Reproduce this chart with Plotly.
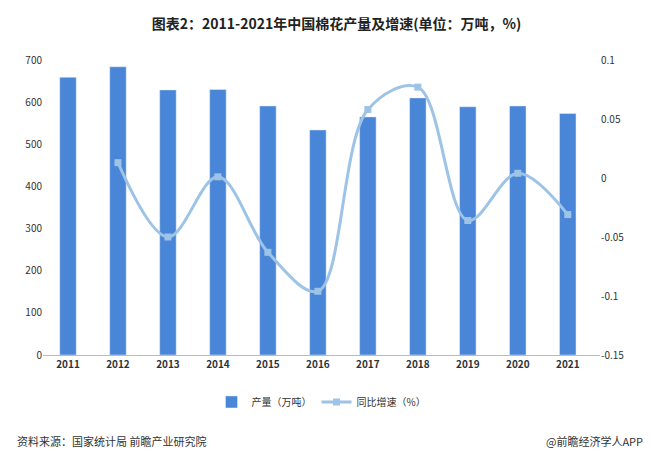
import plotly.graph_objects as go

years = ["2011","2012","2013","2014","2015","2016","2017","2018","2019","2020","2021"]
output = [659, 684, 629, 630, 591, 534, 565, 610, 589, 591, 573]
growth_years = years[1:]
growth = [0.013, -0.05, 0.001, -0.063, -0.096, 0.058, 0.077, -0.036, 0.004, -0.031]
right_ticks = [0.1, 0.05, 0, -0.05, -0.1, -0.15]
right_labels = ["0.1", "0.05", "0", "-0.05", "-0.1", "-0.15"]

fig = go.Figure()
fig.add_trace(go.Bar(x=years, y=output, name="产量（万吨）", marker_color="#4a86d8", width=0.33))
fig.add_trace(go.Scatter(x=growth_years, y=growth, name="同比增速（%）", yaxis="y2",
                         mode="lines+markers", line=dict(color="#9dc3e6", width=3, shape="spline"),
                         marker=dict(symbol="square", size=7, color="#9dc3e6")))
font = "Noto Sans CJK SC"
fig.update_layout(
    width=657, height=463, paper_bgcolor="white", plot_bgcolor="white",
    font=dict(family=font, size=10, color="#333"),
    title=dict(text="<b>图表2：2011-2021年中国棉花产量及增速(单位：万吨，%)</b>", x=0.5, y=0.975,
               xanchor="center", font=dict(size=14, color="#222")),
    margin=dict(l=35, r=65, t=52, b=116),
    xaxis=dict(showline=True, linecolor="#bbb", tickfont=dict(size=10, color="#333"), tickprefix="<b>", ticksuffix="</b>"),
    yaxis=dict(range=[0,700], dtick=100, showgrid=False, zeroline=False, tickfont=dict(size=10)),
    yaxis2=dict(range=[-0.15,0.1], tickvals=right_ticks, ticktext=right_labels, overlaying="y", side="right",
                showgrid=False, zeroline=False, tickfont=dict(size=10)),
    legend=dict(orientation="h", x=0.5, xanchor="center", y=-0.11, yanchor="top", font=dict(size=10)),
    annotations=[
        dict(text="资料来源：国家统计局 前瞻产业研究院", x=-0.05, y=-0.29, xref="paper", yref="paper",
             xanchor="left", yanchor="middle", showarrow=False, font=dict(size=11, color="#333")),
        dict(text="@前瞻经济学人APP", x=1.08, y=-0.29, xref="paper", yref="paper",
             xanchor="right", yanchor="middle", showarrow=False, font=dict(size=11, color="#333")),
    ],
)
fig.write_html("out.html")
